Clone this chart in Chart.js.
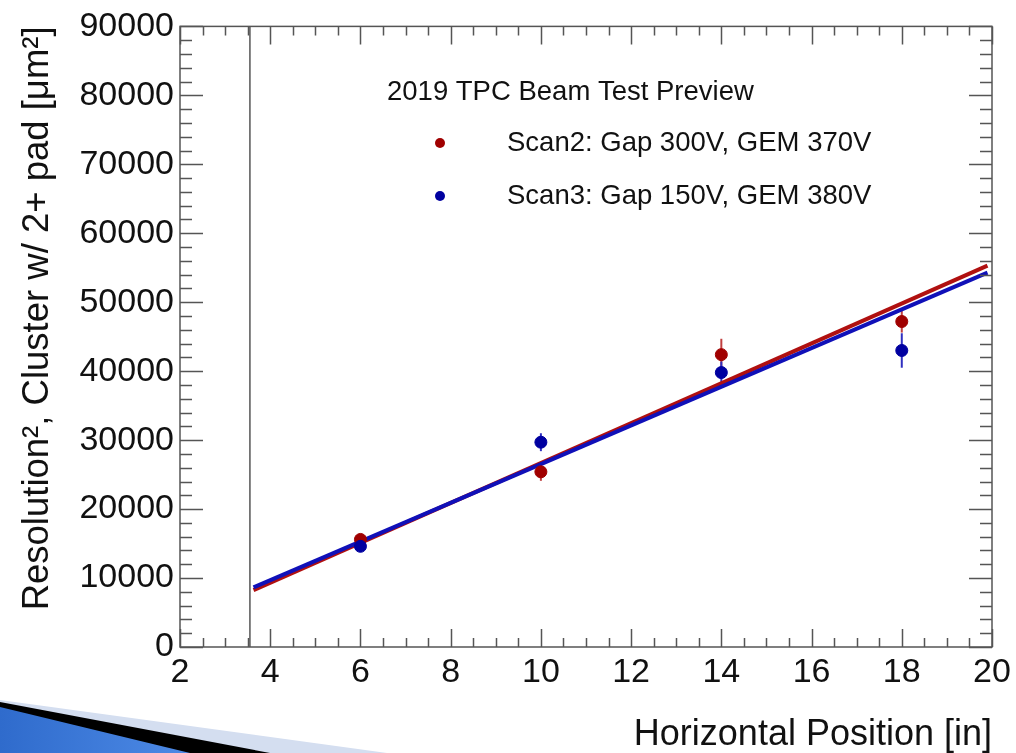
<!DOCTYPE html>
<html>
<head>
<meta charset="utf-8">
<script src="https://cdn.jsdelivr.net/npm/chart.js@4.4.0/dist/chart.umd.min.js"></script>
<style>
  html, body { margin: 0; padding: 0; background: #fff; }
  #wrap { position: relative; width: 1016px; height: 753px; }
  #swoosh { position: absolute; left: 0; top: 0; }
</style>
</head>
<body>
<div id="wrap">
  <canvas id="chart" width="1016" height="753"></canvas>
  <svg id="swoosh" width="1016" height="753">
    <defs>
      <linearGradient id="bg" x1="0" y1="0" x2="1" y2="0">
        <stop offset="0" stop-color="#2f6bcc"/>
        <stop offset="1" stop-color="#4d8ae6"/>
      </linearGradient>
    </defs>
    <polygon points="0,700 387,753 0,753" fill="#d4def0"/>
    <polygon points="0,702 270,753 0,753" fill="#000"/>
    <polygon points="0,707 190,753 0,753" fill="url(#bg)"/>
  </svg>
</div>
<script>
// valeurs
const positions = [6, 10, 14, 18];
const scan2 = [15600, 25400, 42400, 47200];
const scan2Err = [800, 1300, 2300, 1600];
const scan3 = [14600, 29700, 39800, 43000];
const scan3Err = [800, 1300, 1600, 2500];

// droites d'ajustement (extremites)
const fitX = [3.63, 19.9];
const fit2 = [8250, 55300];
const fit3 = [8650, 54300];

// trait vertical
const cutX = 3.55;

const xTicks = { min: 2, max: 20, step: 2, minor: 0.5 };
const yTicks = { min: 0, max: 90000, step: 10000, minor: 2000 };

const RED = '#a00000';
const BLUE = '#0000a0';
const FONT = "'Liberation Sans', Arial, sans-serif";

function pts(xs, ys) {
    return xs.map((x, i) => ({ x: x, y: ys[i] }));
}

// barres d'erreur, graduations facon ROOT et legende
const rootStyle = {
    id: 'rootStyle',
    beforeDatasetsDraw(chart) {
        const ctx = chart.ctx;
        const xs = chart.scales.x, ys = chart.scales.y;
        const a = chart.chartArea;
        ctx.save();
        ctx.lineWidth = 2;
        [[scan2, scan2Err, '#c04040'], [scan3, scan3Err, '#3030c0']].forEach(([vals, errs, col]) => {
            ctx.strokeStyle = col;
            positions.forEach((p, i) => {
                const px = xs.getPixelForValue(p);
                ctx.beginPath();
                ctx.moveTo(px, ys.getPixelForValue(vals[i] - errs[i]));
                ctx.lineTo(px, ys.getPixelForValue(vals[i] + errs[i]));
                ctx.stroke();
            });
        });
        // trait vertical
        ctx.strokeStyle = '#555';
        ctx.lineWidth = 1.5;
        const cx = xs.getPixelForValue(cutX);
        ctx.beginPath();
        ctx.moveTo(cx, a.top);
        ctx.lineTo(cx, a.bottom);
        ctx.stroke();
        ctx.restore();
    },
    afterDraw(chart) {
        const ctx = chart.ctx;
        const xs = chart.scales.x, ys = chart.scales.y;
        const a = chart.chartArea;
        ctx.save();
        ctx.strokeStyle = '#555';
        ctx.lineWidth = 1.5;
        ctx.strokeRect(a.left, a.top, a.right - a.left, a.bottom - a.top);
        ctx.beginPath();
        for (let v = xTicks.min; v <= xTicks.max + 1e-9; v += xTicks.minor) {
            const major = Math.abs(v / xTicks.step - Math.round(v / xTicks.step)) < 1e-6;
            const len = major ? 18 : 9;
            const px = Math.round(xs.getPixelForValue(v)) + 0.5;
            ctx.moveTo(px, a.bottom); ctx.lineTo(px, a.bottom - len);
            ctx.moveTo(px, a.top); ctx.lineTo(px, a.top + len);
        }
        for (let v = yTicks.min; v <= yTicks.max; v += yTicks.minor) {
            const major = v % yTicks.step === 0;
            const len = major ? 23 : 12;
            const py = Math.round(ys.getPixelForValue(v)) + 0.5;
            ctx.moveTo(a.left, py); ctx.lineTo(a.left + len, py);
            ctx.moveTo(a.right, py); ctx.lineTo(a.right - len, py);
        }
        ctx.stroke();

        // legende
        ctx.fillStyle = '#111';
        ctx.font = '27.5px ' + FONT;
        ctx.textBaseline = 'middle';
        ctx.textAlign = 'left';
        ctx.fillText('2019 TPC Beam Test Preview', 387, 92);
        const items = chart.data.datasets.filter(d => d.legend);
        items.forEach((d, i) => {
            const y = 143 + i * 53;
            ctx.fillStyle = d.backgroundColor;
            ctx.beginPath();
            ctx.arc(440, y, 5, 0, Math.PI * 2);
            ctx.fill();
            ctx.fillStyle = '#111';
            ctx.fillText(d.label, 507, y);
        });
        ctx.restore();
    }
};

new Chart(document.getElementById('chart'), {
    type: 'scatter',
    data: {
        datasets: [
            {
                label: 'Scan2: Gap 300V, GEM 370V',
                legend: true,
                data: pts(positions, scan2),
                backgroundColor: RED,
                borderColor: RED,
                pointRadius: 6,
                order: 1
            },
            {
                label: 'Scan3: Gap 150V, GEM 380V',
                legend: true,
                data: pts(positions, scan3),
                backgroundColor: BLUE,
                borderColor: BLUE,
                pointRadius: 6,
                order: 0
            },
            {
                label: 'fit2',
                type: 'line',
                data: pts(fitX, fit2),
                borderColor: '#b01010',
                borderWidth: 4,
                pointRadius: 0,
                order: 3
            },
            {
                label: 'fit3',
                type: 'line',
                data: pts(fitX, fit3),
                borderColor: '#1010b8',
                borderWidth: 4,
                pointRadius: 0,
                order: 2
            }
        ]
    },
    options: {
        responsive: false,
        animation: false,
        layout: { padding: { left: 0, top: 25, right: 24, bottom: 0 } },
        plugins: {
            legend: { display: false },
            tooltip: { enabled: false }
        },
        scales: {
            x: {
                type: 'linear',
                min: xTicks.min,
                max: xTicks.max,
                border: { display: false },
                grid: { display: false, drawTicks: false },
                ticks: {
                    stepSize: xTicks.step,
                    padding: 5,
                    color: '#111',
                    font: { family: FONT, size: 34 },
                    callback: v => String(v)
                },
                title: {
                    display: true,
                    text: 'Horizontal Position [in]',
                    align: 'end',
                    color: '#111',
                    font: { family: FONT, size: 36, lineHeight: 1 },
                    padding: { top: 0, bottom: 0 }
                },
                afterFit(scale) { scale.height = 106; }
            },
            y: {
                type: 'linear',
                min: yTicks.min,
                max: yTicks.max,
                border: { display: false },
                grid: { display: false, drawTicks: false },
                ticks: {
                    stepSize: yTicks.step,
                    padding: 6,
                    color: '#111',
                    font: { family: FONT, size: 34 },
                    callback: v => String(v)
                },
                title: {
                    display: true,
                    text: 'Resolution², Cluster w/ 2+ pad [μm²]',
                    align: 'end',
                    color: '#111',
                    font: { family: FONT, size: 36.5, lineHeight: 1 },
                    padding: { top: 20, bottom: 0 }
                },
                afterFit(scale) { scale.width = 180; }
            }
        }
    },
    plugins: [rootStyle]
});
</script>
</body>
</html>
